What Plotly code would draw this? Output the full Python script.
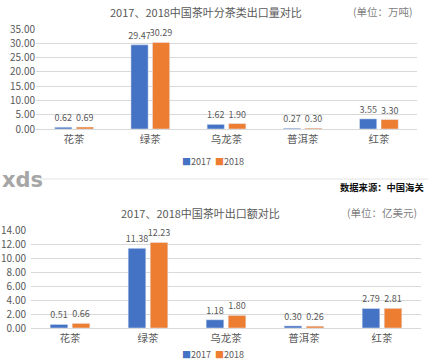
import plotly.graph_objects as go

# ---- data ----
categories = ["花茶", "绿茶", "乌龙茶", "普洱茶", "红茶"]
volume_2017 = [0.62, 29.47, 1.62, 0.27, 3.55]
volume_2018 = [0.69, 30.29, 1.90, 0.30, 3.30]
value_2017 = [0.51, 11.38, 1.18, 0.30, 2.79]
value_2018 = [0.66, 12.23, 1.80, 0.26, 2.81]
volume_ticks = [0, 5, 10, 15, 20, 25, 30, 35]
value_ticks = [0, 2, 4, 6, 8, 10, 12, 14]
series_names = ["2017", "2018"]

title_top = "2017、2018中国茶叶分茶类出口量对比"
unit_top = "(单位：万吨)"
title_bottom = "2017、2018中国茶叶出口额对比"
unit_bottom = "(单位：亿美元)"
source_text = "数据来源：中国海关"

# ---- styling ----
W, H = 428, 360
BLUE = "#4472C4"
ORANGE = "#ED7D31"
GRID = "#D9D9D9"
TXT = "#595959"
FONT = "Noto Sans CJK SC"


def fx(px):
    return px / W


def fy(py):
    return 1 - py / H


fig = go.Figure()

for vals, name, color in [(volume_2017, series_names[0], BLUE), (volume_2018, series_names[1], ORANGE)]:
    fig.add_trace(go.Bar(
        x=categories, y=vals, name=name, marker_color=color,
        texttemplate="%{y:.2f}", textposition="outside", cliponaxis=False, constraintext="none",
        textfont=dict(size=9, color=TXT, family=FONT),
        xaxis="x", yaxis="y", showlegend=False,
    ))
for vals, name, color in [(value_2017, series_names[0], BLUE), (value_2018, series_names[1], ORANGE)]:
    fig.add_trace(go.Bar(
        x=categories, y=vals, name=name, marker_color=color,
        texttemplate="%{y:.2f}", textposition="outside", cliponaxis=False, constraintext="none",
        textfont=dict(size=9, color=TXT, family=FONT),
        xaxis="x2", yaxis="y2", showlegend=False,
    ))

xcommon = dict(showgrid=False, showline=True, linecolor=GRID, linewidth=1,
               ticks="", tickfont=dict(size=10.5, color=TXT, family=FONT), fixedrange=True)
ycommon = dict(showgrid=True, gridcolor=GRID, gridwidth=1, zeroline=False, showline=False,
               ticks="", tickformat=".2f", tickfont=dict(size=10, color=TXT, family=FONT),
               fixedrange=True)

legend_html = (f"<span style='color:{BLUE}'>■</span>{series_names[0]}  "
               f"<span style='color:{ORANGE}'>■</span>{series_names[1]}")

annotations = [
    dict(text=title_top, x=fx(206), y=fy(12), font=dict(size=11, color=TXT)),
    dict(text=unit_top, x=fx(383), y=fy(12), font=dict(size=10.5, color="#7F7F7F")),
    dict(text=legend_html, x=fx(213), y=fy(162), font=dict(size=9, color=TXT)),
    dict(text="<b>xds</b>", x=fx(0), y=fy(180), xanchor="left", font=dict(size=21, color="#A6A6A6", family="DejaVu Sans")),
    dict(text="<b>" + source_text + "</b>", x=fx(426), y=fy(187), xanchor="right", font=dict(size=9.3, color="#111111")),
    dict(text=title_bottom, x=fx(200), y=fy(213), font=dict(size=11, color=TXT)),
    dict(text=unit_bottom, x=fx(382), y=fy(212), font=dict(size=10.5, color="#7F7F7F")),
    dict(text=legend_html, x=fx(213), y=fy(354), font=dict(size=9, color=TXT)),
]
for a in annotations:
    a.setdefault("xanchor", "center")
    a.update(xref="paper", yref="paper", yanchor="middle", showarrow=False)
    a["font"].setdefault("family", FONT)

fig.update_layout(
    width=W, height=H,
    margin=dict(l=0, r=0, t=0, b=0, autoexpand=False),
    paper_bgcolor="white", plot_bgcolor="white",
    barmode="group", bargap=0.435, bargroupgap=0.2,
    font=dict(family=FONT, color=TXT),
    xaxis=dict(anchor="y", domain=[fx(36), fx(417)], **xcommon),
    yaxis=dict(anchor="x", domain=[fy(129), fy(29)], range=[0, 35], tickvals=volume_ticks, **ycommon),
    xaxis2=dict(anchor="y2", domain=[fx(31), fx(421)], **xcommon),
    yaxis2=dict(anchor="x2", domain=[fy(328), fy(230)], range=[0, 14], tickvals=value_ticks,
                ticklabelstandoff=4, **ycommon),
    annotations=annotations,
    shapes=[
        dict(type="line", xref="paper", yref="paper", x0=fx(40), x1=1, y0=fy(179), y1=fy(179),
             line=dict(color="#E3E3E3", width=1)),
    ],
    showlegend=False,
)

fig.write_html("out.html", config={"displayModeBar": False},
               post_script="document.body.style.margin='0';")
